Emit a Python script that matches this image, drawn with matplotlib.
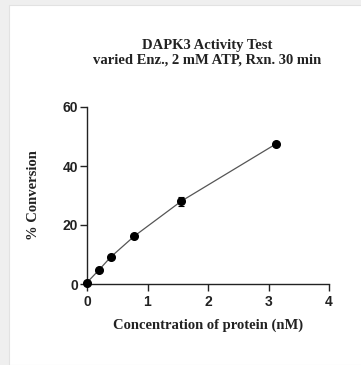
import matplotlib
matplotlib.use("Agg")
import matplotlib.pyplot as plt
from matplotlib.patches import Rectangle

# enzyme concentration (nM), 2-fold dilution series
conc = [0.0, 0.195, 0.39, 0.78, 1.56, 3.125]
conversion = [0.5, 4.7, 9.1, 16.2, 28.1, 47.5]
conv_err = [0.3, 0.4, 0.4, 0.5, 1.5, 0.5]

x_ticks = [0, 1, 2, 3, 4]
y_ticks = [0, 20, 40, 60]

fig = plt.figure(figsize=(3.61, 3.65), dpi=100)
fig.patch.set_facecolor("#efefef")
fig.patches.append(Rectangle((9 / 361, 0), 1, 1 - 5 / 365, transform=fig.transFigure,
                             facecolor="white", edgecolor="#e2e2e2", linewidth=0.8, zorder=-10))

ax = fig.add_axes([87 / 361, 1 - 284 / 365, (329 - 87) / 361, (284 - 107) / 365])
ax.set_facecolor("none")

ax.errorbar(conc, conversion, yerr=conv_err, fmt="o", color="black", markersize=5.5,
            ecolor="black", elinewidth=0.8, capsize=2.5, capthick=0.8, zorder=3, clip_on=False)
ax.plot(conc, conversion, color="#555555", linewidth=0.9, zorder=2)

ax.set_xlim(0, 4)
ax.set_ylim(0, 60)
ax.set_xticks(x_ticks)
ax.set_yticks(y_ticks)
for s in ["top", "right"]:
    ax.spines[s].set_visible(False)
for s in ["left", "bottom"]:
    ax.spines[s].set_linewidth(1.0)
    ax.spines[s].set_color("#222222")
ax.tick_params(direction="out", length=5, width=1.0, color="#222222")
ax.tick_params(axis="x", pad=3)
ax.tick_params(axis="y", pad=1.5)
for lab in ax.get_xticklabels() + ax.get_yticklabels():
    lab.set_fontfamily("Liberation Sans")
    lab.set_fontweight("bold")
    lab.set_fontsize(10)
    lab.set_color("#222222")

ax.set_xlabel("Concentration of protein (nM)", fontfamily="Liberation Serif",
              fontweight="bold", fontsize=10.5, labelpad=7, color="#222222")
ax.set_ylabel("% Conversion", fontfamily="Liberation Serif",
              fontweight="bold", fontsize=10.5, labelpad=16, color="#222222")

fig.text(207 / 361, 1 - 53 / 365, "DAPK3 Activity Test\nvaried Enz., 2 mM ATP, Rxn. 30 min",
         ha="center", va="center", fontfamily="Liberation Serif", fontweight="bold",
         fontsize=10.5, linespacing=1.15, color="#222222")

fig.savefig("out.png", dpi=100)
